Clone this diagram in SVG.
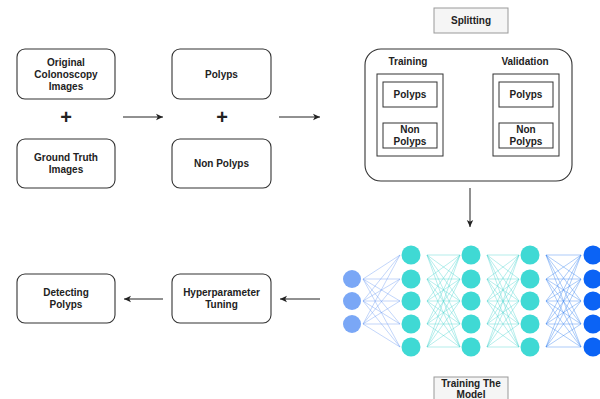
<svg xmlns="http://www.w3.org/2000/svg" width="600" height="399" viewBox="0 0 600 399">
<defs>
<marker id="ah" markerWidth="8" markerHeight="8" refX="7" refY="4" orient="auto" markerUnits="userSpaceOnUse">
<path d="M0,0.8 L7,4 L0,7.2 L1.8,4 Z" fill="#222"/>
</marker>
</defs>
<style>
.box{fill:#fff;stroke:#333;stroke-width:1.1}
.sq{fill:#fff;stroke:#333;stroke-width:1}
.lbl{fill:#f5f5f5;stroke:#999;stroke-width:1}
text{font-family:"Liberation Sans",Arial,sans-serif;font-weight:bold;font-size:10px;fill:#222;text-anchor:middle}
.plus{font-size:20px;font-weight:bold}
.conn{stroke:#222;stroke-width:1;fill:none;marker-end:url(#ah)}
.e1{stroke:#6f9cf2;stroke-width:0.6;fill:none;opacity:0.7}
.e2{stroke:#4fd6d2;stroke-width:0.6;fill:none;opacity:0.7}
.e3{stroke:#3a85f0;stroke-width:0.6;fill:none;opacity:0.7}
</style>
<rect width="600" height="399" fill="#fff"/>
<g id="original">
<rect class="box" x="17" y="49" width="98" height="50" rx="8"/>
<text x="66" y="66">Original</text>
<text x="66" y="78">Colonoscopy</text>
<text x="66" y="90">Images</text>
</g>
<g id="plus1"><text class="plus" x="66" y="124">+</text></g>
<g id="groundtruth">
<rect class="box" x="17" y="139" width="98" height="49" rx="8"/>
<text x="66" y="161">Ground Truth</text>
<text x="66" y="173">Images</text>
</g>
<g id="polyps">
<rect class="box" x="172" y="49" width="99" height="50" rx="8"/>
<text x="221.5" y="78">Polyps</text>
</g>
<g id="plus2"><text class="plus" x="222" y="124">+</text></g>
<g id="nonpolyps">
<rect class="box" x="172" y="139" width="99" height="49" rx="8"/>
<text x="221.5" y="167">Non Polyps</text>
</g>
<g id="splitting-label">
<rect class="lbl" x="434" y="8" width="74" height="25"/>
<text x="471" y="24">Splitting</text>
</g>
<g id="splitting">
<rect class="box" x="365" y="49" width="207" height="132" rx="16"/>
<text x="408" y="65">Training</text>
<text x="525" y="65">Validation</text>
<rect class="sq" x="377" y="74" width="66" height="82"/>
<rect class="sq" x="383" y="82" width="54" height="25"/>
<text x="410" y="98">Polyps</text>
<rect class="sq" x="383" y="123" width="54" height="25"/>
<text x="410" y="133">Non</text>
<text x="410" y="145">Polyps</text>
<rect class="sq" x="493" y="74" width="66" height="82"/>
<rect class="sq" x="499" y="82" width="54" height="25"/>
<text x="526" y="98">Polyps</text>
<rect class="sq" x="499" y="123" width="54" height="25"/>
<text x="526" y="133">Non</text>
<text x="526" y="145">Polyps</text>
</g>
<g id="network">
<path class="e1" d="M363 279L400 255M363 279L400 279M363 279L400 301M363 279L400 324M363 279L400 347M363 301L400 255M363 301L400 279M363 301L400 301M363 301L400 324M363 301L400 347M363 324L400 255M363 324L400 279M363 324L400 301M363 324L400 324M363 324L400 347"/>
<path class="e2" d="M427 255L460 255M427 255L460 279M427 255L460 301M427 255L460 324M427 255L460 347M427 279L460 255M427 279L460 279M427 279L460 301M427 279L460 324M427 279L460 347M427 301L460 255M427 301L460 279M427 301L460 301M427 301L460 324M427 301L460 347M427 324L460 255M427 324L460 279M427 324L460 301M427 324L460 324M427 324L460 347M427 347L460 255M427 347L460 279M427 347L460 301M427 347L460 324M427 347L460 347"/>
<path class="e2" d="M487 255L519 255M487 255L519 279M487 255L519 301M487 255L519 324M487 255L519 347M487 279L519 255M487 279L519 279M487 279L519 301M487 279L519 324M487 279L519 347M487 301L519 255M487 301L519 279M487 301L519 301M487 301L519 324M487 301L519 347M487 324L519 255M487 324L519 279M487 324L519 301M487 324L519 324M487 324L519 347M487 347L519 255M487 347L519 279M487 347L519 301M487 347L519 324M487 347L519 347"/>
<path class="e3" d="M546 255L581 255M546 255L581 279M546 255L581 301M546 255L581 324M546 255L581 347M546 279L581 255M546 279L581 279M546 279L581 301M546 279L581 324M546 279L581 347M546 301L581 255M546 301L581 279M546 301L581 301M546 301L581 324M546 301L581 347M546 324L581 255M546 324L581 279M546 324L581 301M546 324L581 324M546 324L581 347M546 347L581 255M546 347L581 279M546 347L581 301M546 347L581 324M546 347L581 347"/>
<g fill="#7aa7f6">
<circle cx="352" cy="279" r="9"/><circle cx="352" cy="301" r="9"/><circle cx="352" cy="324" r="9"/>
</g>
<g fill="#3fd9d4">
<circle cx="411" cy="255" r="9.5"/><circle cx="411" cy="279" r="9.5"/><circle cx="411" cy="301" r="9.5"/><circle cx="411" cy="324" r="9.5"/><circle cx="411" cy="347" r="9.5"/>
<circle cx="471" cy="255" r="9.5"/><circle cx="471" cy="279" r="9.5"/><circle cx="471" cy="301" r="9.5"/><circle cx="471" cy="324" r="9.5"/><circle cx="471" cy="347" r="9.5"/>
<circle cx="530" cy="255" r="9.5"/><circle cx="530" cy="279" r="9.5"/><circle cx="530" cy="301" r="9.5"/><circle cx="530" cy="324" r="9.5"/><circle cx="530" cy="347" r="9.5"/>
</g>
<g fill="#0b63f5">
<circle cx="593" cy="255" r="9.5"/><circle cx="593" cy="279" r="9.5"/><circle cx="593" cy="301" r="9.5"/><circle cx="593" cy="324" r="9.5"/><circle cx="593" cy="347" r="9.5"/>
</g>
</g>
<g id="training-label">
<rect class="lbl" x="434" y="377" width="74" height="26"/>
<text x="471" y="387">Training The</text>
<text x="471" y="398">Model</text>
</g>
<g id="hyper">
<rect class="box" x="172" y="274" width="99" height="49" rx="8"/>
<text x="221.5" y="296">Hyperparameter</text>
<text x="221.5" y="308">Tuning</text>
</g>
<g id="detecting">
<rect class="box" x="17" y="274" width="98" height="49" rx="8"/>
<text x="66" y="296">Detecting</text>
<text x="66" y="308">Polyps</text>
</g>
<g id="connectors">
<line class="conn" x1="123" y1="117" x2="163" y2="117"/>
<line class="conn" x1="279" y1="117" x2="320" y2="117"/>
<line class="conn" x1="470" y1="188" x2="470" y2="227"/>
<line class="conn" x1="320" y1="299" x2="280" y2="299"/>
<line class="conn" x1="163" y1="299" x2="124" y2="299"/>
</g>
</svg>
